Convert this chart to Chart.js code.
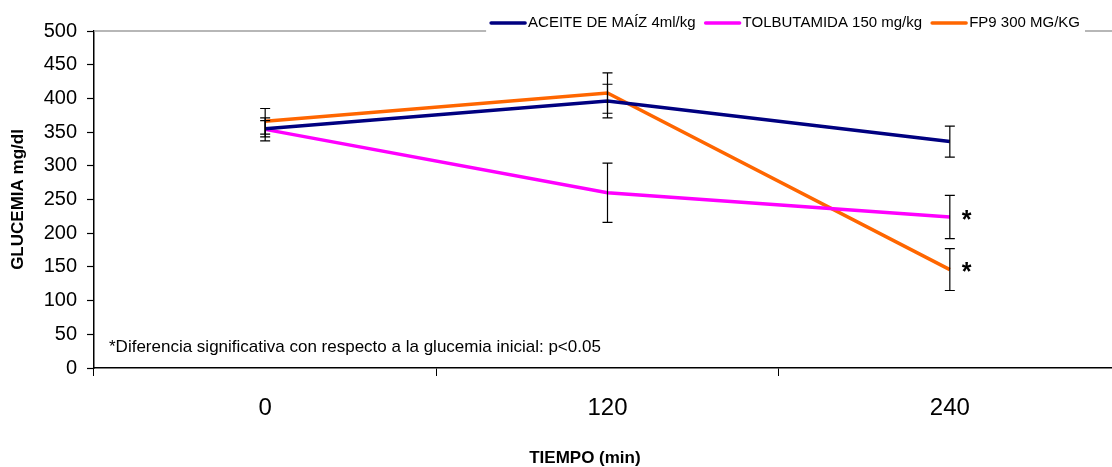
<!DOCTYPE html>
<html>
<head>
<meta charset="utf-8">
<script src="https://cdn.jsdelivr.net/npm/chart.js@4"></script>
<style>
  html, body { margin: 0; padding: 0; background: #fff; overflow: hidden; }
  #chartWrap { width: 1121px; height: 467px; }
</style>
</head>
<body>
<div id="chartWrap"><canvas id="glucChart" width="1121" height="467"></canvas></div>
<script>
// tiempos de medida (min)
const tiempos = ['0', '120', '240'];

// glucemia media (mg/dl) y error por grupo
const aceiteMedia = [355, 396, 336];
const aceiteError = [12, 25, 23];
const tolbMedia = [354, 260, 224];
const tolbError = [17, 44, 32];
const fp9Media = [366, 408, 146];
const fp9Error = [19, 30, 31];

// diferencia significativa frente a la glucemia inicial
const aceiteSig = [false, false, false];
const tolbSig = [false, false, true];
const fp9Sig = [false, false, true];

const yMin = 0, yMax = 500, yPaso = 50;

const nota = '*Diferencia significativa con respecto a la glucemia inicial: p<0.05';
const tituloX = 'TIEMPO (min)';

const FUENTE = '"Liberation Sans", Arial, sans-serif';

// barras de error, asteriscos, nota y título del eje x
const errorBars = {
    id: 'errorBars',
    afterDatasetsDraw(chart) {
        const ctx = chart.ctx;
        const y = chart.scales.y;
        const area = chart.chartArea;
        ctx.save();
        chart.data.datasets.forEach((ds, i) => {
            const meta = chart.getDatasetMeta(i);
            meta.data.forEach((pt, j) => {
                const v = ds.data[j];
                const e = ds.errores[j];
                const top = y.getPixelForValue(v + e);
                const bot = y.getPixelForValue(v - e);
                ctx.strokeStyle = '#000';
                ctx.lineWidth = 1.2;
                ctx.beginPath();
                ctx.moveTo(pt.x, top); ctx.lineTo(pt.x, bot);
                ctx.moveTo(pt.x - 5, top); ctx.lineTo(pt.x + 5, top);
                ctx.moveTo(pt.x - 5, bot); ctx.lineTo(pt.x + 5, bot);
                ctx.stroke();
                if (ds.signif[j]) {
                    ctx.fillStyle = '#000';
                    ctx.font = 'bold 25px ' + FUENTE;
                    ctx.textAlign = 'left';
                    ctx.textBaseline = 'middle';
                    ctx.fillText('*', pt.x + 12, pt.y + 4);
                }
            });
        });
        ctx.fillStyle = '#000';
        ctx.font = '17px ' + FUENTE;
        ctx.textAlign = 'left';
        ctx.textBaseline = 'middle';
        ctx.fillText(nota, area.left + 15, y.getPixelForValue(30));

        ctx.font = 'bold 17px ' + FUENTE;
        ctx.textAlign = 'center';
        ctx.fillText(tituloX, area.left + (area.right - area.left) * 0.478, chart.height - 9);
        ctx.restore();
    }
};

// borde superior del área y leyenda encima
const leyenda = {
    id: 'leyenda',
    afterDraw(chart) {
        const ctx = chart.ctx;
        const area = chart.chartArea;
        const items = chart.data.datasets;
        const linea = 34, hueco = 3, sep = 10, margen = 5;
        ctx.save();
        ctx.font = '15px ' + FUENTE;
        let total = 0;
        items.forEach((ds, i) => {
            total += linea + hueco + ctx.measureText(ds.label).width + (i < items.length - 1 ? sep : 0);
        });
        const right = 1080;
        const left = right - total;
        const cy = 23;

        ctx.strokeStyle = '#a0a0a0';
        ctx.lineWidth = 1.5;
        ctx.beginPath();
        ctx.moveTo(area.left, area.top); ctx.lineTo(left - margen, area.top);
        ctx.moveTo(right + margen, area.top); ctx.lineTo(area.right, area.top);
        ctx.stroke();

        let x = left;
        ctx.textAlign = 'left';
        ctx.textBaseline = 'middle';
        items.forEach(ds => {
            ctx.strokeStyle = ds.borderColor;
            ctx.lineWidth = 3.5;
            ctx.lineCap = 'round';
            ctx.beginPath();
            ctx.moveTo(x, cy); ctx.lineTo(x + linea, cy);
            ctx.stroke();
            x += linea + hueco;
            ctx.fillStyle = '#000';
            ctx.fillText(ds.label, x, cy);
            x += ctx.measureText(ds.label).width + sep;
        });
        ctx.restore();
    }
};

const ctx = document.getElementById('glucChart').getContext('2d');
new Chart(ctx, {
    type: 'line',
    data: {
        labels: tiempos,
        datasets: [
            { label: 'ACEITE DE MAÍZ 4ml/kg', data: aceiteMedia, errores: aceiteError, signif: aceiteSig, borderColor: '#000080' },
            { label: 'TOLBUTAMIDA 150 mg/kg', data: tolbMedia, errores: tolbError, signif: tolbSig, borderColor: '#ff00ff' },
            { label: 'FP9 300 MG/KG', data: fp9Media, errores: fp9Error, signif: fp9Sig, borderColor: '#ff6600' }
        ].map(ds => Object.assign(ds, { borderWidth: 3.5, pointRadius: 0, tension: 0, fill: false }))
    },
    options: {
        responsive: false,
        animation: false,
        devicePixelRatio: 1,
        layout: { padding: { top: 31, left: 5, right: 0, bottom: 0 } },
        plugins: {
            legend: { display: false },
            tooltip: { enabled: false }
        },
        scales: {
            x: {
                offset: true,
                grid: { display: true, offset: true, drawOnChartArea: false, color: '#000', tickLength: 8, tickWidth: 1 },
                border: { color: '#000', width: 1.5 },
                ticks: { color: '#000', font: { family: FUENTE, size: 24 }, padding: 18 },
                afterFit(s) { s.height = 99; }
            },
            y: {
                min: yMin,
                max: yMax,
                ticks: { stepSize: yPaso, color: '#000', font: { family: FUENTE, size: 20 }, padding: 10 },
                grid: { display: true, drawOnChartArea: false, color: '#000', tickLength: 7, tickWidth: 1.2 },
                border: { color: '#000', width: 1.5 },
                title: { display: true, text: 'GLUCEMIA mg/dl', color: '#000', font: { family: FUENTE, size: 17, weight: 'bold' }, padding: 3 },
                afterFit(s) { s.width = 89; }
            }
        }
    },
    plugins: [errorBars, leyenda]
});
</script>
</body>
</html>
